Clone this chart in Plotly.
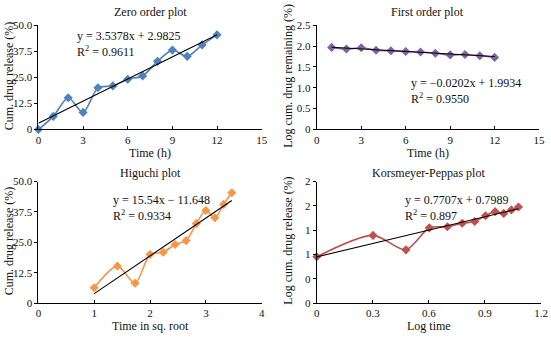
import plotly.graph_objects as go

W, H = 551, 339
FONT = "Liberation Serif"

# ---- data ----
time_h = [0, 1, 2, 3, 4, 5, 6, 7, 8, 9, 10, 11, 12]
release = [0, 6.3, 15.2, 8.2, 20.0, 20.9, 24.1, 25.7, 32.7, 38.1, 35.1, 40.6, 45.4]

time_fo = [1, 2, 3, 4, 5, 6, 7, 8, 9, 10, 11, 12]
log_remaining = [1.97, 1.93, 1.96, 1.90, 1.89, 1.87, 1.86, 1.83, 1.79, 1.80, 1.77, 1.73]

sqrt_time = [1.0, 1.414, 1.732, 2.0, 2.236, 2.449, 2.646, 2.828, 3.0, 3.162, 3.317, 3.464]
release_hig = [6.3, 15.2, 8.2, 20.0, 20.9, 24.1, 25.7, 32.7, 38.1, 35.1, 40.6, 45.4]

log_time = [0.0, 0.301, 0.477, 0.602, 0.699, 0.778, 0.845, 0.903, 0.954, 1.0, 1.041, 1.079]
log_release = [0.80, 1.17, 0.92, 1.30, 1.32, 1.38, 1.41, 1.51, 1.58, 1.55, 1.61, 1.66]

fits = {
    "zero": (3.5378, 2.9825),
    "first": (-0.0202, 1.9934),
    "hig": (15.54, -11.648),
    "kp": (0.7707, 0.7989),
}

panels = [
    dict(key="zero", x=time_h, y=release, color="#4F81BD", title="Zero order plot",
         xt="Time (h)", yt="Cum. drug release (%)",
         xr=[0, 15], xtv=[0, 3, 6, 9, 12, 15], xtt=["0", "3", "6", "9", "12", "15"],
         yr=[0, 50], ytv=[0, 12.5, 25, 37.5, 50], ytt=["0", "12.5", "25.0", "37.5", "50.0"],
         px=(36, 263), py=(20, 128), ty=6, eq="y = 3.5378x + 2.9825", r2="0.9611", eqpos=(73, 29)),
    dict(key="first", x=time_fo, y=log_remaining, color="#8064A2", title="First order plot",
         xt="Time (h)", yt="Log cum. drug remaining (%)",
         xr=[0, 15], xtv=[0, 3, 6, 9, 12, 15], xtt=["0", "3", "6", "9", "12", "15"],
         yr=[0, 2.5], ytv=[0, 0.5, 1.0, 1.5, 2.0, 2.5], ytt=["0", "0.5", "1.0", "1.5", "2.0", "2.5"],
         px=(319, 545), py=(20, 128), ty=6, eq="y = \u22120.0202x + 1.9934", r2="0.9550", eqpos=(413, 77)),
    dict(key="hig", x=sqrt_time, y=release_hig, color="#F79646", title="Higuchi plot",
         xt="Time in sq. root", yt="Cum. drug release (%)",
         xr=[0, 4], xtv=[0, 1, 2, 3, 4], xtt=["0", "1", "2", "3", "4"],
         yr=[0, 50], ytv=[0, 12.5, 25, 37.5, 50], ytt=["0", "12.5", "25.0", "37.5", "50.0"],
         px=(36, 263), py=(182, 308), ty=173, eq="y = 15.54x \u2212 11.648", r2="0.9334", eqpos=(110, 199)),
    dict(key="kp", x=log_time, y=log_release, color="#C0504D", title="Korsmeyer-Peppas plot",
         xt="Log time", yt="Log cum. drug release (%)",
         xr=[0, 1.2], xtv=[0, 0.3, 0.6, 0.9, 1.2], xtt=["0", "0.3", "0.6", "0.9", "1.2"],
         yr=[0, 2.1], ytv=[0, 0.42, 0.84, 1.26, 1.68, 2.1], ytt=["0", "0", "1", "1", "2", "2"],
         px=(319, 547), py=(182, 308), ty=173, eq="y = 0.7707x + 0.7989", r2="0.897", eqpos=(407, 199)),
]

fig = go.Figure()
annotations = []
layout = {}

for i, p in enumerate(panels, start=1):
    xa = "x" if i == 1 else f"x{i}"
    ya = "y" if i == 1 else f"y{i}"
    xkey = "xaxis" if i == 1 else f"xaxis{i}"
    ykey = "yaxis" if i == 1 else f"yaxis{i}"
    slope, icpt = fits[p["key"]]
    x0, x1 = min(p["x"]), max(p["x"])
    fig.add_trace(go.Scatter(x=p["x"], y=p["y"], mode="lines+markers", xaxis=xa, yaxis=ya,
                             line=dict(color=p["color"], width=1.6, shape="spline", smoothing=0.8),
                             marker=dict(symbol="diamond", size=7, color=p["color"]),
                             cliponaxis=False, showlegend=False))
    fig.add_trace(go.Scatter(x=[x0, x1], y=[slope * x0 + icpt, slope * x1 + icpt], mode="lines",
                             xaxis=xa, yaxis=ya, line=dict(color="black", width=1.1),
                             cliponaxis=False, showlegend=False))
    common = dict(showgrid=False, zeroline=False, showline=True, linecolor="black", linewidth=1,
                  ticklen=3, tickcolor="black", tickfont=dict(family=FONT, size=11, color="#111"))
    layout[xkey] = dict(domain=[p["px"][0] / W, p["px"][1] / W], range=p["xr"], anchor=ya,
                        tickmode="array", tickvals=p["xtv"], ticktext=p["xtt"], ticks="inside", **common)
    layout[ykey] = dict(domain=[1 - p["py"][1] / H, 1 - p["py"][0] / H], range=p["yr"], anchor=xa,
                        tickmode="array", tickvals=p["ytv"], ticktext=p["ytt"], ticks="outside", **common)
    cx = (p["px"][0] + p["px"][1]) / 2
    tfont = dict(family=FONT, size=12, color="#111")
    annotations.append(dict(text=p["title"], x=cx / W, y=1 - p["ty"] / H, xref="paper", yref="paper",
                            showarrow=False, font=tfont, xanchor="center", yanchor="middle"))
    annotations.append(dict(text=p["xt"], x=cx / W, y=1 - (p["py"][1] + 24) / H, xref="paper", yref="paper",
                            showarrow=False, font=tfont, xanchor="center", yanchor="middle"))
    annotations.append(dict(text=p["yt"], x=(p["px"][0] - 29) / W, y=1 - ((p["py"][0] + p["py"][1]) / 2 - 2) / H,
                            xref="paper", yref="paper", textangle=-90,
                            showarrow=False, font=tfont, xanchor="center", yanchor="middle"))
    ex, ey = p["eqpos"]
    annotations.append(dict(text=p["eq"] + "<br>R<sup>2</sup> = " + p["r2"], x=ex / W, y=1 - (ey - 7) / H,
                            xref="paper", yref="paper", showarrow=False, align="left",
                            font=dict(family=FONT, size=12, color="#111"), xanchor="left", yanchor="top"))

fig.update_layout(width=W, height=H, margin=dict(l=0, r=0, t=0, b=0),
                  paper_bgcolor="white", plot_bgcolor="white", annotations=annotations, **layout)
fig.write_html("out.html")
